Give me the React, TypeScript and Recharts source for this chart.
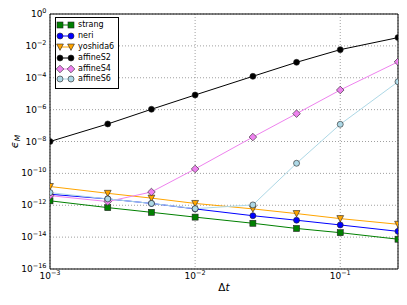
import React from 'react';
import { LineChart, Line, XAxis, YAxis, CartesianGrid } from 'recharts';

// step sizes and error per integrator
const dt = [0.001, 0.0025, 0.005, 0.01, 0.025, 0.05, 0.1, 0.25];
const strang = [1.9e-12, 7.1e-13, 3.6e-13, 1.8e-13, 7.4e-14, 3.5e-14, 1.9e-14, 7.4e-15];
const neri = [4.9e-12, 2.5e-12, 1.3e-12, 5.9e-13, 2.2e-13, 1.15e-13, 5.8e-14, 2.3e-14];
const yoshida6 = [1.5e-11, 5.6e-12, 2.8e-12, 1.3e-12, 5.9e-13, 3.0e-13, 1.45e-13, 6.4e-14];
const affineS2 = [1.0e-8, 1.26e-7, 1.05e-6, 8.3e-6, 1.23e-4, 9.3e-4, 5.8e-3, 3.3e-2];
const affineS4 = [4.0e-12, 1.7e-12, 6.8e-12, 1.9e-10, 1.9e-8, 5.6e-7, 1.7e-5, 1.0e-3];
const affineS6 = [6.2e-12, 2.5e-12, 1.3e-12, 6.1e-13, 1.05e-12, 4.3e-10, 1.2e-7, 5.6e-5];

const xMajor = [1e-3, 1e-2, 1e-1];
const xMinor = [2e-3, 3e-3, 4e-3, 5e-3, 6e-3, 7e-3, 8e-3, 9e-3, 2e-2, 3e-2, 4e-2, 5e-2, 6e-2, 7e-2, 8e-2, 9e-2, 2e-1];
const yMajor = [1, 1e-2, 1e-4, 1e-6, 1e-8, 1e-10, 1e-12, 1e-14, 1e-16];

type Shape = 'square' | 'circle' | 'tri' | 'diamond';

const series: { key: string; color: string; shape: Shape; values: number[] }[] = [
  { key: 'strang', color: '#008000', shape: 'square', values: strang },
  { key: 'neri', color: '#0000ff', shape: 'circle', values: neri },
  { key: 'yoshida6', color: '#ffa500', shape: 'tri', values: yoshida6 },
  { key: 'affineS2', color: '#000000', shape: 'circle', values: affineS2 },
  { key: 'affineS4', color: '#ee82ee', shape: 'diamond', values: affineS4 },
  { key: 'affineS6', color: '#add8e6', shape: 'circle', values: affineS6 },
];

const rows = dt.map((d, i) => {
  const r: Record<string, number> = { dt: d };
  series.forEach((s) => (r[s.key] = s.values[i]));
  return r;
});

const FONT = 'DejaVu Sans, sans-serif';

function Marker({ cx, cy, shape, fill }: { cx: number; cy: number; shape: Shape; fill: string }) {
  const edge = { stroke: '#222', strokeWidth: 0.6, fill };
  if (shape === 'square') return <rect x={cx - 3} y={cy - 3} width={6} height={6} {...edge} />;
  if (shape === 'tri')
    return <polygon points={`${cx - 3.4},${cy - 3} ${cx + 3.4},${cy - 3} ${cx},${cy + 3.4}`} {...edge} />;
  if (shape === 'diamond')
    return <polygon points={`${cx},${cy - 3.8} ${cx + 3.8},${cy} ${cx},${cy + 3.8} ${cx - 3.8},${cy}`} {...edge} />;
  return <circle cx={cx} cy={cy} r={3} {...edge} />;
}

function expText(v: number) {
  const e = Math.round(Math.log10(v));
  return e === 0 ? '0' : '\u2212' + Math.abs(e);
}

function XTick({ x, y, payload }: any) {
  return (
    <text x={x} y={y + 10} textAnchor="middle" fontFamily={FONT} fontSize={9} fill="#000">
      10
      <tspan dy={-4} fontSize={6.5}>{expText(payload.value)}</tspan>
    </text>
  );
}

function YTick({ x, y, payload }: any) {
  return (
    <text x={x - 3.5} y={y + 3} textAnchor="end" fontFamily={FONT} fontSize={9} fill="#000">
      10
      <tspan dy={-4} fontSize={6.5}>{expText(payload.value)}</tspan>
    </text>
  );
}

function Legend() {
  return (
    <div
      style={{
        position: 'absolute',
        left: 55,
        top: 17,
        width: 64,
        height: 72,
        border: '1px solid #000',
        background: '#fff',
        fontFamily: FONT,
        fontSize: 8,
        paddingTop: 2,
        boxSizing: 'border-box',
      }}
    >
      {series.map((s) => (
        <div key={s.key} style={{ display: 'flex', alignItems: 'center', height: 10.8 }}>
          <svg width={21} height={10} style={{ flex: 'none' }}>
            <line x1={4} x2={15} y1={5} y2={5} stroke={s.color} strokeWidth={1} />
            <Marker cx={4} cy={5} shape={s.shape} fill={s.color} />
            <Marker cx={15} cy={5} shape={s.shape} fill={s.color} />
          </svg>
          <span style={{ lineHeight: '10px', whiteSpace: 'nowrap', marginLeft: 1 }}>{s.key}</span>
        </div>
      ))}
    </div>
  );
}

const logX = { type: 'number' as const, scale: 'log' as const, domain: [0.001, 0.25], allowDataOverflow: true };
const logY = { type: 'number' as const, scale: 'log' as const, domain: [1e-16, 1], allowDataOverflow: true };

export default function App() {
  return (
    <div style={{ position: 'absolute', left: 0, top: 0, width: 407, height: 305, background: '#fff' }}>
      <LineChart width={407} height={305} data={rows} margin={{ top: 14, right: 9, bottom: 0, left: 0 }}>
        <CartesianGrid stroke="#888" strokeDasharray="1 2" strokeWidth={0.8} />
        <XAxis
          dataKey="dt"
          {...logX}
          ticks={xMajor}
          tick={<XTick />}
          tickLine={false}
          tickSize={0}
          tickMargin={0}
          axisLine={{ stroke: '#000' }}
          height={36}
          label={{
            content: ({ viewBox }: any) => (
              <text
                x={viewBox.x + viewBox.width / 2}
                y={viewBox.y + 22}
                textAnchor="middle"
                fontFamily={FONT}
                fontSize={10.5}
                fill="#000"
              >
                {'\u0394'}
                <tspan fontStyle="italic">t</tspan>
              </text>
            ),
          }}
        />
        <XAxis xAxisId="bMaj" dataKey="dt" {...logX} ticks={xMajor} tick={false} mirror tickSize={4} axisLine={false} tickLine={{ stroke: '#000' }} />
        <XAxis xAxisId="bMin" dataKey="dt" {...logX} ticks={xMinor} tick={false} mirror tickSize={2} axisLine={false} tickLine={{ stroke: '#000' }} />
        <XAxis xAxisId="tMaj" dataKey="dt" orientation="top" {...logX} ticks={xMajor} tick={false} mirror tickSize={4} axisLine={{ stroke: '#000' }} tickLine={{ stroke: '#000' }} />
        <XAxis xAxisId="tMin" dataKey="dt" orientation="top" {...logX} ticks={xMinor} tick={false} mirror tickSize={2} axisLine={false} tickLine={{ stroke: '#000' }} />
        <YAxis
          {...logY}
          ticks={yMajor}
          tick={<YTick />}
          tickLine={false}
          tickSize={0}
          tickMargin={0}
          axisLine={{ stroke: '#000' }}
          width={50}
          label={{
            content: ({ viewBox }: any) => {
              const cx = viewBox.x + 18;
              const cy = viewBox.y + viewBox.height / 2;
              return (
                <text
                  x={cx}
                  y={cy}
                  transform={`rotate(-90, ${cx}, ${cy})`}
                  textAnchor="middle"
                  fontFamily={FONT}
                  fontSize={11}
                  fontStyle="italic"
                  fill="#000"
                >
                  {'\u03F5'}
                  <tspan fontSize={7.5} dy={2}>M</tspan>
                </text>
              );
            },
          }}
        />
        <YAxis yAxisId="lMaj" {...logY} ticks={yMajor} tick={false} mirror tickSize={4} axisLine={false} tickLine={{ stroke: '#000' }} />
        <YAxis yAxisId="rMaj" orientation="right" {...logY} ticks={yMajor} tick={false} mirror tickSize={4} axisLine={{ stroke: '#000' }} tickLine={{ stroke: '#000' }} />
        {series.map((s) => (
          <Line
            key={s.key}
            dataKey={s.key}
            type="linear"
            stroke={s.color}
            strokeWidth={1}
            isAnimationActive={false}
            dot={(p: any) => <Marker key={`${s.key}-${p.index}`} cx={p.cx} cy={p.cy} shape={s.shape} fill={s.color} />}
            activeDot={false}
          />
        ))}
      </LineChart>
      <Legend />
    </div>
  );
}
